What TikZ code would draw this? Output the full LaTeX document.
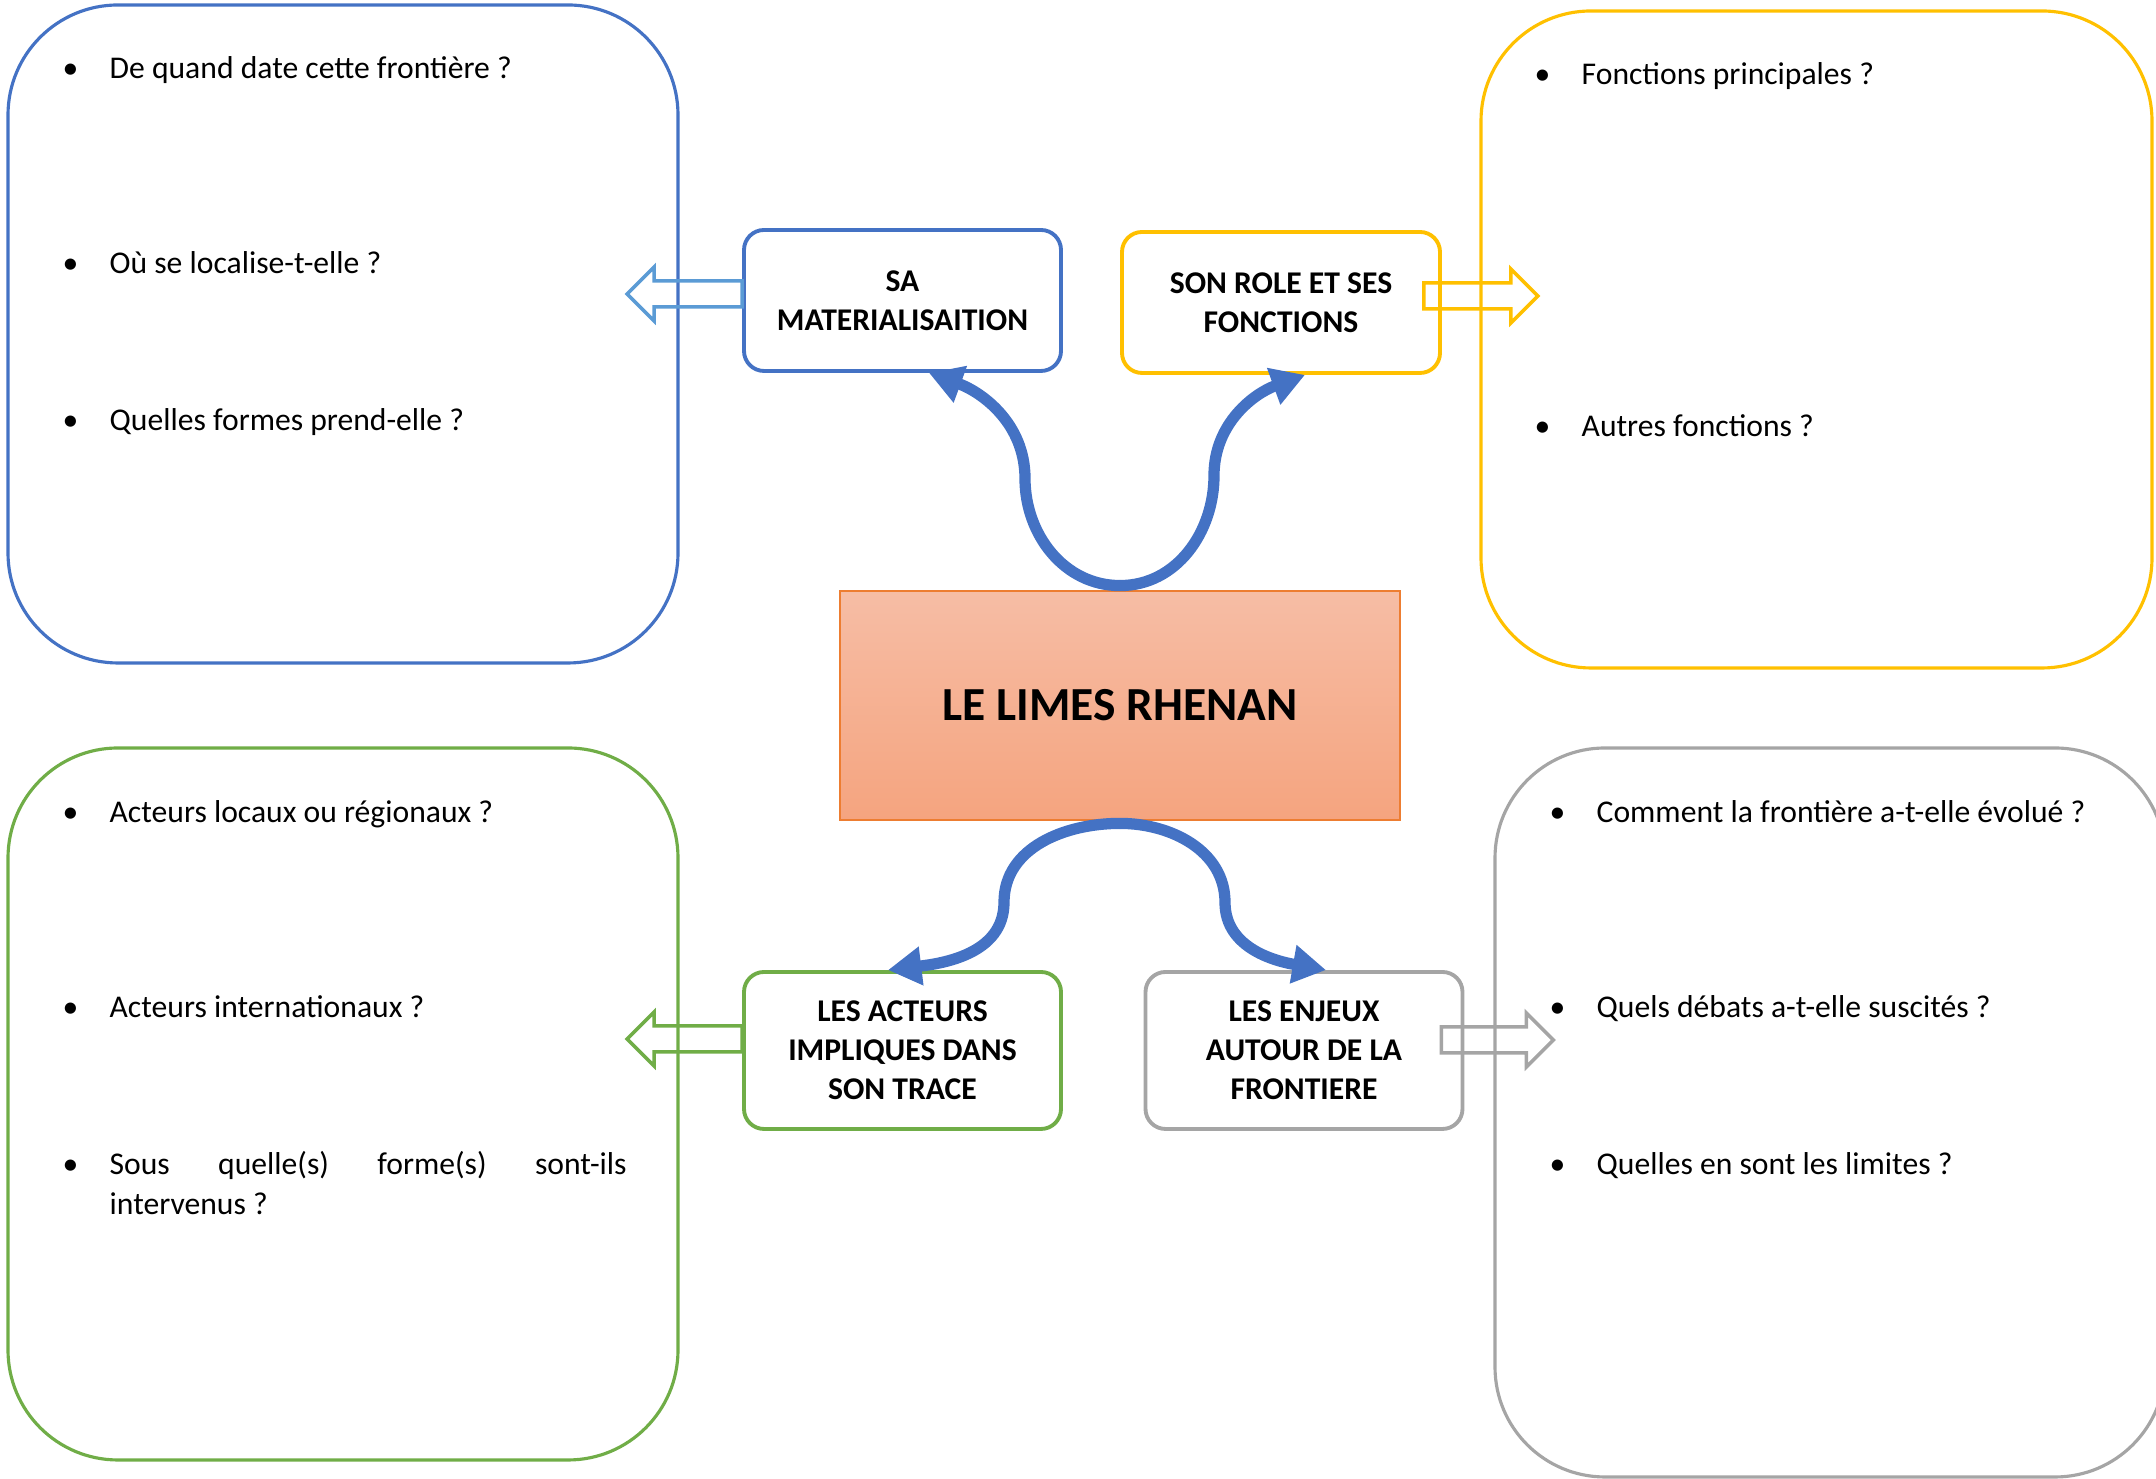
\documentclass[tikz,border=0pt]{standalone}
\usepackage{fontspec}
\setmainfont{Carlito}
\usetikzlibrary{positioning,calc,arrows.meta}

\definecolor{frameblue}{HTML}{4472C4}
\definecolor{arrowblue}{HTML}{5B9BD5}
\definecolor{frameyellow}{HTML}{FFC000}
\definecolor{framegreen}{HTML}{70AD47}
\definecolor{framegray}{HTML}{A5A5A5}
\definecolor{limeline}{HTML}{ED7D31}
\definecolor{limetop}{HTML}{F6BDA5}
\definecolor{limebot}{HTML}{F5A47F}

\tikzset{
  bigframe/.style={line width=0.9pt, rounded corners=1.1cm, inner sep=0pt},
  theme/.style={line width=1.1pt, rounded corners=0.2cm, fill=white, text=black,
    align=center, minimum width=3.17cm, font=\fontsize{9}{11.1}\selectfont\bfseries},
  question/.style={anchor=base west, inner sep=0pt, font=\fontsize{9}{11}\selectfont},
  hollow/.style={line width=1pt, line join=miter},
  curly/.style={frameblue, line width=3.2pt, -{Triangle[length=9.5pt,width=10.5pt]}},
}

\begin{document}
\begin{tikzpicture}
\clip (0,0) rectangle (21.56,14.79);
% cadres des questions
\node[bigframe, draw=frameblue, minimum width=6.70cm, minimum height=6.58cm] (qmat) at (3.43,11.45) {};
\node[bigframe, draw=frameyellow, minimum width=6.71cm, minimum height=6.57cm] (qrole) at (18.165,11.395) {};
\node[bigframe, draw=framegreen, minimum width=6.70cm, minimum height=7.12cm] (qacteurs) at (3.43,3.75) {};
\node[bigframe, draw=framegray, minimum width=6.70cm, minimum height=7.29cm] (qenjeux) at (18.30,3.665) {};

% centre
\node[draw=limeline, line width=0.8pt, top color=limetop, bottom color=limebot,
  minimum width=5.6cm, minimum height=2.29cm, font=\fontsize{13.5}{16}\selectfont\bfseries]
  (lime) at (11.2,7.735) {LE LIMES RHENAN};

% themes
\node[theme, draw=frameblue, minimum height=1.41cm] (sa) at (9.025,11.785) {SA\\MATERIALISAITION};
\node[theme, draw=frameyellow, minimum width=3.18cm, minimum height=1.41cm] (role) at (12.81,11.765) {SON ROLE ET SES\\FONCTIONS};
\node[theme, draw=framegreen, minimum height=1.57cm] (acteurs) at (9.025,4.285) {LES ACTEURS\\IMPLIQUES DANS\\SON TRACE};
\node[theme, draw=framegray, minimum height=1.57cm] (enjeux) at (13.04,4.285) {LES ENJEUX\\AUTOUR DE LA\\FRONTIERE};

% fleches creuses vers les cadres
\draw[hollow, arrowblue] ([yshift=0.195cm]sa.west) -- ++(-0.88,0) -- ++(0,0.14) -- ++(-0.27,-0.27)
  -- ++(0.27,-0.27) -- ++(0,0.14) -- ++(0.88,0) -- cycle;
\draw[hollow, frameyellow] ([xshift=-0.18cm,yshift=0.195cm]role.east) -- ++(0.87,0) -- ++(0,0.14) -- ++(0.27,-0.27)
  -- ++(-0.27,-0.27) -- ++(0,0.14) -- ++(-0.87,0) -- cycle;
\draw[hollow, framegreen] ([yshift=0.245cm]acteurs.west) -- ++(-0.88,0) -- ++(0,0.14) -- ++(-0.27,-0.27)
  -- ++(0.27,-0.27) -- ++(0,0.14) -- ++(0.88,0) -- cycle;
\draw[hollow, framegray] ([xshift=-0.23cm,yshift=0.235cm]enjeux.east) -- ++(0.85,0) -- ++(0,0.14) -- ++(0.27,-0.27)
  -- ++(-0.27,-0.27) -- ++(0,0.14) -- ++(-0.85,0) -- cycle;

% fleches courbes depuis le centre
\draw[curly] ([yshift=0.04cm]lime.north) to[out=180,in=-90] ++(-0.95,1.07) to[out=90,in=-20] ([xshift=0.265cm]sa.south);
\draw[curly] ([yshift=0.04cm]lime.north) to[out=0,in=-90] ++(0.94,1.10) to[out=90,in=-160] ([xshift=0.24cm]role.south);
\draw[curly] ([yshift=-0.02cm]lime.south) to[out=180,in=90] ++(-1.16,-0.79) to[out=-90,in=7] ([xshift=-0.145cm]acteurs.north);
\draw[curly] ([yshift=-0.02cm]lime.south) to[out=0,in=90] ++(1.05,-0.79) to[out=-90,in=170] ([xshift=0.22cm]enjeux.north);

% questions
\node[question] (q11) at (0.62,14.00) {\makebox[0.47cm][l]{\textbullet}De quand date cette frontière ?};
\node[question] (q12) at (0.62,12.05) {\makebox[0.47cm][l]{\textbullet}Où se localise-t-elle ?};
\node[question] (q13) at (0.62,10.48) {\makebox[0.47cm][l]{\textbullet}Quelles formes prend-elle ?};
\node[question] (q21) at (15.34,13.94) {\makebox[0.47cm][l]{\textbullet}Fonctions principales ?};
\node[question] (q22) at (15.34,10.42) {\makebox[0.47cm][l]{\textbullet}Autres fonctions ?};
\node[question] (q31) at (0.62,6.56) {\makebox[0.47cm][l]{\textbullet}Acteurs locaux ou régionaux ?};
\node[question] (q32) at (0.62,4.61) {\makebox[0.47cm][l]{\textbullet}Acteurs internationaux ?};
\node[question] (q33) at (0.62,3.04) {\makebox[0.47cm][l]{\textbullet}\makebox[5.17cm][s]{Sous quelle(s) forme(s) sont-ils}};
\node[question] (q33b) at (1.09,2.64) {intervenus ?};
\node[question] (q41) at (15.49,6.56) {\makebox[0.47cm][l]{\textbullet}Comment la frontière a-t-elle évolué ?};
\node[question] (q42) at (15.49,4.61) {\makebox[0.47cm][l]{\textbullet}Quels débats a-t-elle suscités ?};
\node[question] (q43) at (15.49,3.04) {\makebox[0.47cm][l]{\textbullet}Quelles en sont les limites ?};
\end{tikzpicture}
\end{document}
